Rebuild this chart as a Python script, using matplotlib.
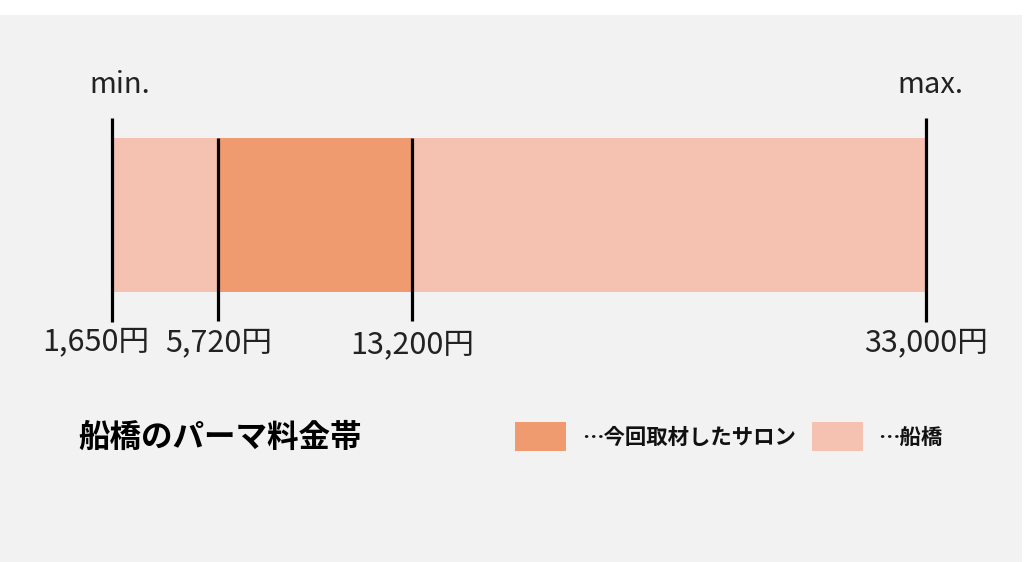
import matplotlib
matplotlib.use("Agg")
import matplotlib.pyplot as plt
from matplotlib.patches import Rectangle

plt.rcParams['font.family'] = ['Noto Sans CJK JP', 'DejaVu Sans']

# data
price_min = 1650
price_max = 33000
salon_low = 5720
salon_high = 13200
tick_values = [1650, 5720, 13200, 33000]
tick_labels = ["1,650円", "5,720円", "13,200円", "33,000円"]
title = "船橋のパーマ料金帯"
legend_labels = ["…今回取材したサロン", "…船橋"]

c_light = "#F5C2B1"
c_dark = "#F09A70"
bg = "#F2F2F2"

W, H = 1024, 562
fig = plt.figure(figsize=(W / 100, H / 100), dpi=100)
fig.patch.set_facecolor("white")

ax = fig.add_axes([0, 0, 1, 1])
ax.set_facecolor("none")
ax.add_patch(Rectangle((0, 0), 1022 / W, (H - 15) / H, transform=ax.transAxes,
                       facecolor=bg, edgecolor="none", zorder=0))
# map prices to pixels: price_min -> 112 px, price_max -> 926 px
scale = (926 - 112) / (price_max - price_min)
ax.set_xlim(price_min - 112 / scale, price_max + (W - 926) / scale)
ax.set_ylim(H, 0)
ax.axis("off")

bar_top, bar_bot = 138, 292
ax.barh((bar_top + bar_bot) / 2, price_max - price_min, left=price_min,
        height=bar_bot - bar_top, color=c_light, zorder=1)
ax.barh((bar_top + bar_bot) / 2, salon_high - salon_low, left=salon_low,
        height=bar_bot - bar_top, color=c_dark, zorder=2)

# vertical marker lines
ax.vlines([price_min, price_max], 118, 322, color="black", lw=2.3, zorder=3)
ax.vlines([salon_low, salon_high], bar_top, 321, color="black", lw=2.3, zorder=3)

# min / max labels
ax.text(price_min + 8 / scale, 85, "min.", ha="center", va="center", fontsize=21, color="#222222", zorder=4)
ax.text(price_max + 4 / scale, 85, "max.", ha="center", va="center", fontsize=21, color="#222222", zorder=4)

# tick labels
label_y = [342, 343, 345, 343]
label_dx = [-16, 1, 0, 0]
for v, lab, yy, dx in zip(tick_values, tick_labels, label_y, label_dx):
    ax.text(v + dx / scale, yy, lab, ha="center", va="center", fontsize=22, color="#222222", zorder=4)

# title
ax.text(78 / W, 1 - 438 / H, title, transform=ax.transAxes, ha="left", va="center",
        fontsize=22.7, fontweight="bold", color="black", zorder=4)

# legend
sw = [(515, c_dark, 582, legend_labels[0]), (812, c_light, 878, legend_labels[1])]
for x0, col, tx, lab in sw:
    ax.add_patch(Rectangle((x0 / W, 1 - 451 / H), 51 / W, 29 / H, transform=ax.transAxes,
                           facecolor=col, edgecolor="none", zorder=3))
    ax.text(tx / W, 1 - 437 / H, lab, transform=ax.transAxes, ha="left", va="center",
            fontsize=15.4, fontweight="bold", color="#111111", zorder=4)

fig.savefig("out.png", dpi=100, facecolor="white")
